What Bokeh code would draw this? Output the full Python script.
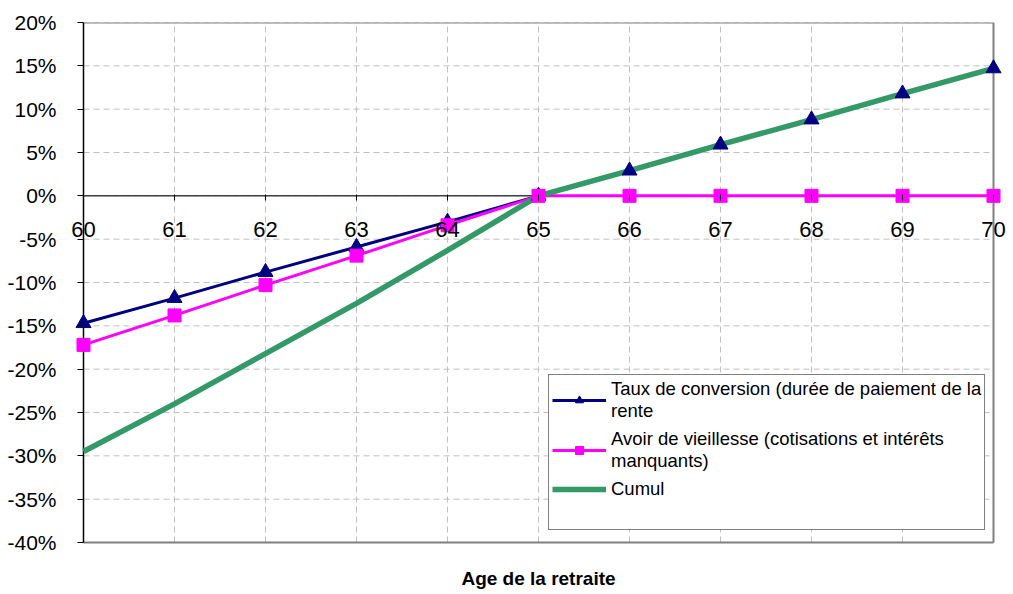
from bokeh.plotting import figure
from bokeh.models import (ColumnDataSource, Legend, LegendItem, FixedTicker, Label,
                          NumeralTickFormatter, Range1d)
from bokeh.embed import file_html
from bokeh.resources import INLINE

ages = [60, 61, 62, 63, 64, 65, 66, 67, 68, 69, 70]
taux = [-14.7, -11.8, -8.8, -5.9, -3.0, 0.0, 2.9, 5.9, 8.8, 11.8, 14.7]
avoir = [-17.2, -13.8, -10.3, -6.9, -3.4, 0.0, 0.0, 0.0, 0.0, 0.0, 0.0]
cumul = [-29.5, -24.0, -18.2, -12.4, -6.3, 0.0, 2.9, 5.9, 8.8, 11.8, 14.7]
y_ticks = [-40, -35, -30, -25, -20, -15, -10, -5, 0, 5, 10, 15, 20]

x_lo, x_hi = ages[0], ages[-1]
y_lo, y_hi = y_ticks[0] / 100, y_ticks[-1] / 100

src = ColumnDataSource(data=dict(
    x=ages,
    taux=[v / 100 for v in taux],
    avoir=[v / 100 for v in avoir],
    cumul=[v / 100 for v in cumul],
))
hgrid_src = ColumnDataSource(data=dict(
    x0=[x_lo] * len(y_ticks), x1=[x_hi] * len(y_ticks),
    y=[t / 100 for t in y_ticks],
))
vgrid_src = ColumnDataSource(data=dict(
    x=ages, y0=[y_lo] * len(ages), y1=[y_hi] * len(ages),
))

FONT = "Liberation Sans"

# The frame is a little larger than the 60..70 / -40..20% data area so that edge
# tick labels and the axis title are not clipped; the visible box is drawn below.
px_per_x = 91.0
px_per_y = 520 / 0.6
pad_x = 14 / px_per_x
pad_bottom = 48 / px_per_y

p = figure(width=1010, height=594, output_backend="svg", toolbar_location=None,
           x_range=Range1d(x_lo - pad_x, x_hi + pad_x),
           y_range=Range1d(y_lo - pad_bottom, y_hi),
           min_border_left=69, min_border_top=22, min_border_right=3, min_border_bottom=4)

p.outline_line_color = None
p.background_fill_color = "white"
p.border_fill_color = "white"
p.xgrid.visible = False
p.ygrid.visible = False

# dashed grid limited to the data area
p.segment(x0="x0", y0="y", x1="x1", y1="y", source=hgrid_src,
          line_color="#c0c0c0", line_dash="6 4", line_width=1)
p.segment(x0="x", y0="y0", x1="x", y1="y1", source=vgrid_src,
          line_color="#c0c0c0", line_dash="6 4", line_width=1)

# box edges
p.segment(x0=[x_lo, x_hi, x_lo], y0=[y_hi, y_lo, y_lo], x1=[x_hi, x_hi, x_hi], y1=[y_hi, y_hi, y_lo],
          line_color="#808080", line_width=2)
# y axis line and zero line
p.segment(x0=[x_lo], y0=[y_lo], x1=[x_lo], y1=[y_hi], line_color="black", line_width=1.5)
p.segment(x0=[x_lo], y0=[0], x1=[x_hi], y1=[0], line_color="#404040", line_width=1.5)

# y axis
ya = p.yaxis[0]
ya.ticker = FixedTicker(ticks=[t / 100 for t in y_ticks])
ya.formatter = NumeralTickFormatter(format="0%")
ya.major_label_text_font = FONT
ya.major_label_text_font_size = "21px"
ya.major_label_text_color = "black"
ya.axis_line_color = None
ya.major_tick_line_color = "black"
ya.major_tick_out = -8
ya.major_tick_in = 14
ya.minor_tick_line_color = None
ya.major_label_standoff = 13

# x axis at zero
xa = p.xaxis[0]
xa.fixed_location = 0
xa.ticker = FixedTicker(ticks=ages)
xa.major_label_text_font = FONT
xa.major_label_text_font_size = "22px"
xa.major_label_text_color = "black"
xa.axis_line_color = None
xa.major_tick_line_color = "black"
xa.major_tick_out = 5
xa.major_tick_in = 1
xa.minor_tick_line_color = None
xa.major_label_standoff = 21

title = Label(x=(x_lo + x_hi) / 2, y=y_lo, y_offset=-36, text="Age de la retraite",
              text_align="center", text_baseline="middle",
              text_font=FONT, text_font_size="19px", text_font_style="bold",
              text_color="black")
p.add_layout(title)

navy = "#000080"
mag = "#FF00FF"
green = "#339966"

l1 = p.line("x", "taux", source=src, line_color=navy, line_width=3)
l2 = p.line("x", "avoir", source=src, line_color=mag, line_width=3)
l3 = p.line("x", "cumul", source=src, line_color=green, line_width=5.5)
m1 = p.scatter("x", "taux", source=src, marker="triangle", size=15,
               fill_color=navy, line_color=navy)
m2 = p.scatter("x", "avoir", source=src, marker="square", size=13,
               fill_color=mag, line_color=mag)
blank = p.line("x", "cumul", source=src, line_alpha=0)

legend = Legend(items=[
    LegendItem(label="Taux de conversion (durée de paiement de la\nrente", renderers=[l1, m1]),
    LegendItem(label="Avoir de vieillesse (cotisations et intérêts\nmanquants)", renderers=[l2, m2]),
    LegendItem(label="Cumul", renderers=[l3]),
    LegendItem(label=" ", renderers=[blank]),
], location=(479, 12 + 48))
legend.label_text_font = FONT
legend.label_text_font_size = "18.5px"
legend.label_text_color = "black"
legend.border_line_color = "black"
legend.border_line_width = 1.5
legend.glyph_width = 54
legend.label_standoff = 5
legend.spacing = 6
legend.padding = 3
legend.margin = 0
legend.background_fill_alpha = 1
p.add_layout(legend, "center")

open("out.html", "w").write(file_html(p, INLINE))
